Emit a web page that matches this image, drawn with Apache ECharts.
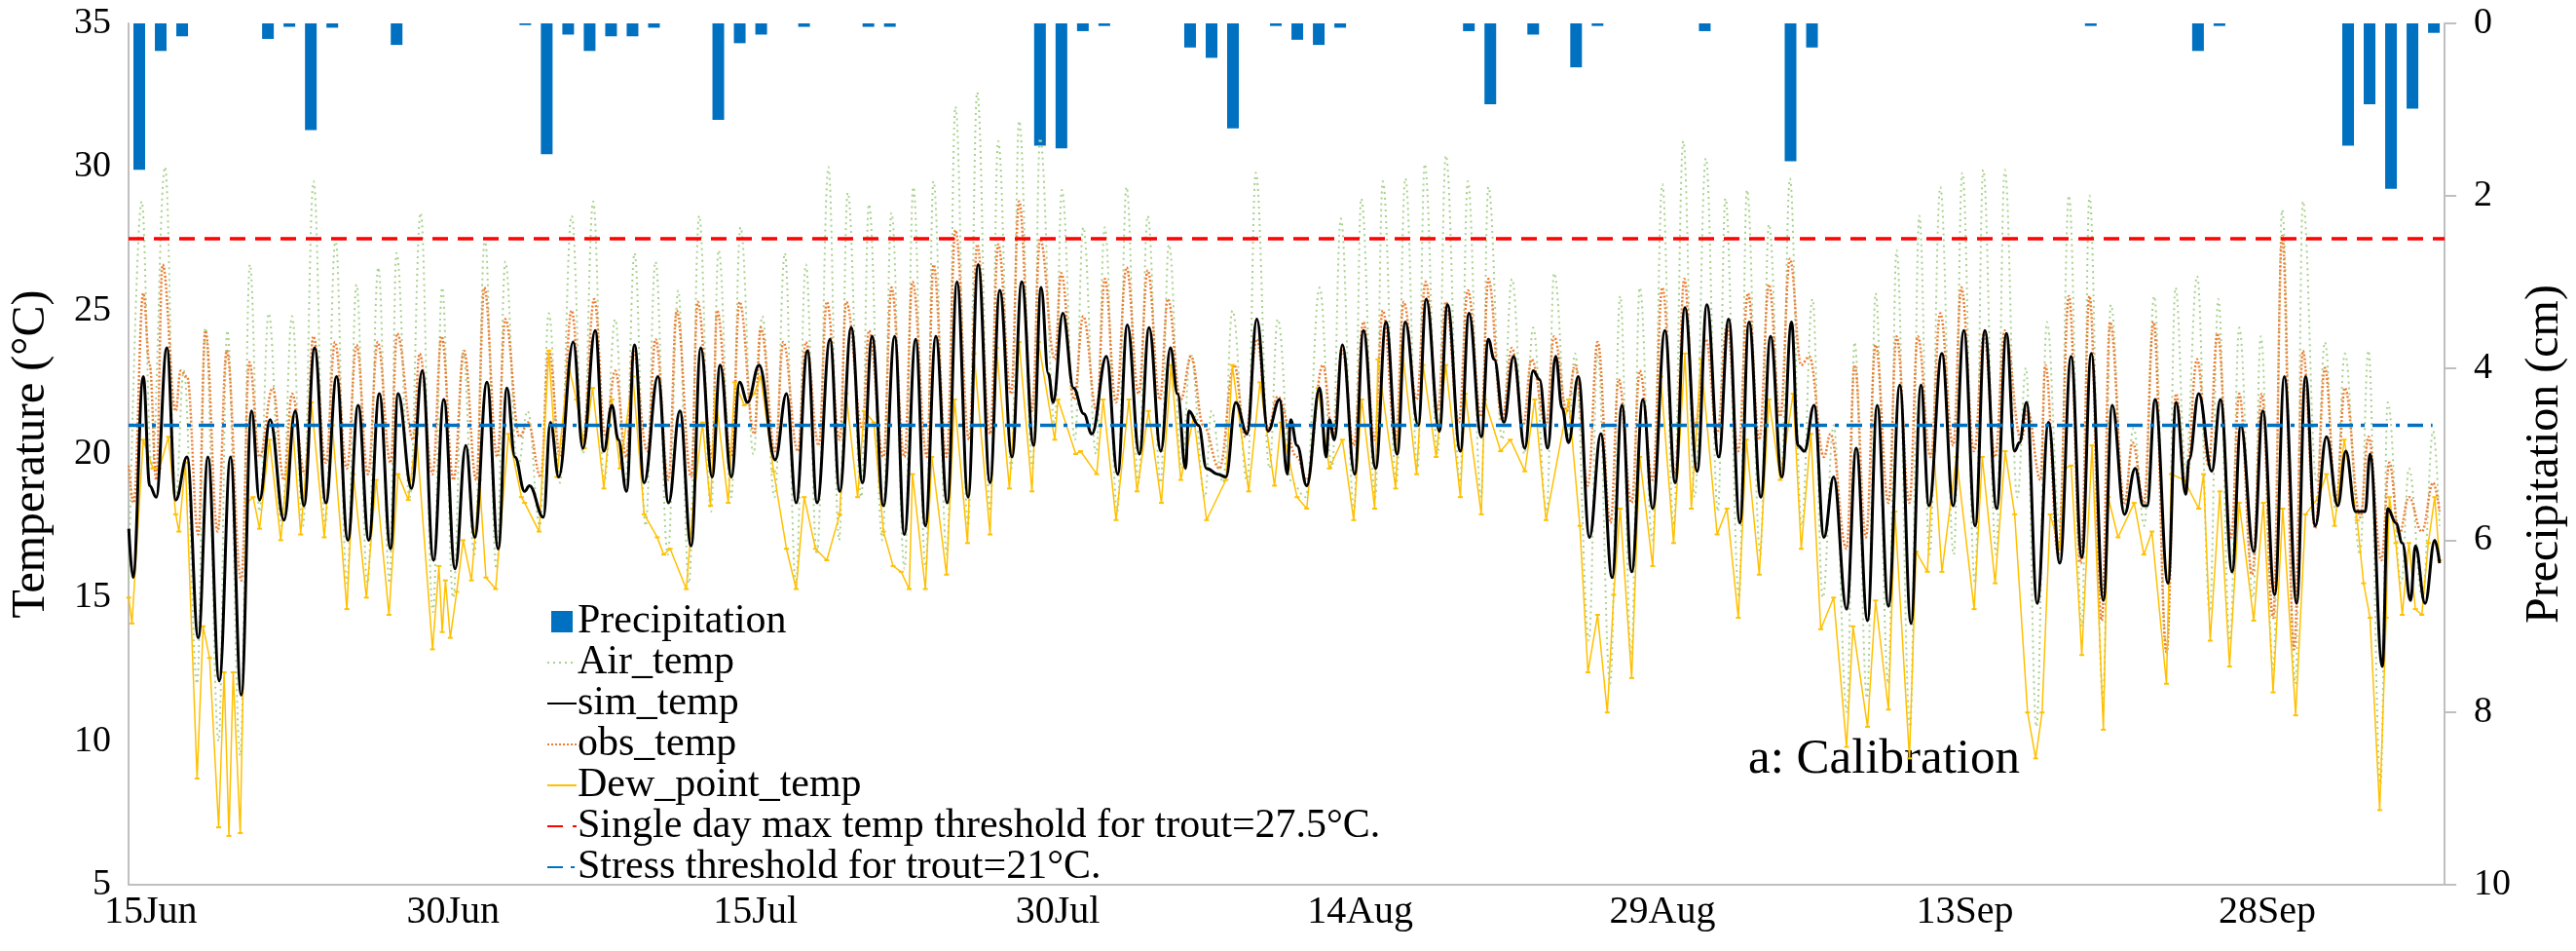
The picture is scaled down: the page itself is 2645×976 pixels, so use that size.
<!DOCTYPE html>
<html>
<head>
<meta charset="utf-8">
<script src="https://cdn.jsdelivr.net/npm/echarts@6/dist/echarts.min.js"></script>
<style>html,body{margin:0;padding:0;background:#fff}#c{width:2645px;height:976px}</style>
</head>
<body>
<div id="c"></div>
<script>
// x unit: days after 15 Jun 00:00
const tickDays = [0, 15, 30, 45, 60, 75, 90, 105];
const tickLabels = ['15Jun', '30Jun', '15Jul', '30Jul', '14Aug', '29Aug', '13Sep', '28Sep'];
const xStart = -1.1, xEnd = 113.8;

// daily precipitation (cm), 108 days
const precipitation = [
1.70,0.32,0.15,0,0,0,0.18,0.04,1.24,0.05,
0,0,0.25,0,0,0,0,0,0.02,1.52,
0.13,0.32,0.15,0.15,0.05,0,0,1.12,0.23,0.13,
0,0.04,0,0,0.04,0.04,0,0,0,0,
0,0,1.42,1.45,0.09,0.03,0,0,0,0.28,
0.40,1.22,0,0.03,0.19,0.25,0.05,0,0,0,
0,0,0.09,0.94,0,0.13,0,0.51,0.03,0,
0,0,0,0.09,0,0,0,1.60,0.28,0,
0,0,0,0,0,0,0,0,0,0,
0,0.03,0,0,0,0,0.32,0.03,0,0,
0,0,0,1.42,0.94,1.92,0.99,0.11];
const precipDays = precipitation.map((v, i) => String(i));

const simTemp = [[-1.09,17.4],[-0.88,15.7],[-0.37,22.7],[-0.05,18.9],[0.27,18.5],[0.80,23.7],[1.24,18.4],[1.80,19.9],[2.36,13.6],[2.84,19.9],[3.40,12.1],[3.96,19.9],[4.49,11.6],[5.00,21.5],[5.40,18.4],[5.92,21.2],[6.61,17.7],[7.17,21.5],[7.60,18.2],[8.13,23.7],[8.69,18.3],[9.22,22.7],[9.78,17.0],[10.29,21.7],[10.82,17.0],[11.34,22.1],[11.90,16.7],[12.27,22.1],[12.94,18.8],[13.47,22.9],[14.03,16.3],[14.54,21.9],[15.10,16.0],[15.63,20.3],[16.07,17.1],[16.68,22.5],[17.24,16.7],[17.67,22.3],[18.07,19.9],[18.55,18.7],[18.79,18.9],[19.48,17.8],[19.83,21.1],[20.24,19.2],[20.96,23.9],[21.44,20.2],[22.05,24.3],[22.48,20.1],[22.88,21.7],[23.20,20.5],[23.60,18.7],[24.00,23.8],[24.48,19.0],[25.16,22.7],[25.69,18.3],[26.25,21.5],[26.81,16.8],[27.29,23.7],[27.85,19.2],[28.25,23.1],[28.81,19.2],[29.21,22.5],[29.61,21.8],[30.18,23.1],[30.98,19.8],[31.54,22.1],[32.02,18.3],[32.58,23.6],[33.06,18.3],[33.70,24.0],[34.18,18.7],[34.75,24.4],[35.31,19.0],[35.79,24.1],[36.35,18.2],[36.91,24.1],[37.39,17.2],[37.95,24.0],[38.43,17.5],[38.95,24.1],[39.52,18.3],[40.00,26.0],[40.55,18.5],[41.05,26.6],[41.64,19.0],[42.12,25.7],[42.73,19.9],[43.21,26.0],[43.80,20.3],[44.17,25.8],[44.53,22.8],[44.77,21.8],[45.25,24.9],[45.78,22.3],[46.29,21.4],[46.69,20.7],[47.41,23.4],[47.97,19.3],[48.45,24.5],[49.05,20.0],[49.53,24.4],[50.11,20.1],[50.59,23.7],[50.94,22.1],[51.34,19.5],[51.50,21.5],[51.98,21.0],[52.38,19.5],[52.94,19.3],[53.34,19.2],[53.83,21.8],[54.39,20.7],[54.87,24.7],[55.43,20.8],[56.00,21.9],[56.39,19.3],[56.55,21.2],[56.87,20.3],[57.35,18.9],[57.99,22.3],[58.31,19.9],[58.47,21.2],[58.72,20.5],[59.12,23.8],[59.73,19.3],[60.16,24.3],[60.77,19.5],[61.28,24.6],[61.84,20.0],[62.24,24.6],[62.88,21.0],[63.28,25.4],[63.93,20.8],[64.33,25.2],[64.97,20.1],[65.40,24.9],[66.01,20.6],[66.36,24.0],[66.65,23.3],[67.13,21.1],[67.61,23.4],[68.17,20.2],[68.58,22.9],[68.90,22.6],[69.30,20.2],[69.70,23.4],[70.02,21.6],[70.34,20.4],[70.82,22.7],[71.38,17.1],[71.94,20.7],[72.50,15.7],[72.99,21.7],[73.47,15.9],[74.03,21.9],[74.51,18.1],[75.12,24.3],[75.63,19.0],[76.11,25.1],[76.72,19.4],[77.20,25.2],[77.79,19.9],[78.28,24.7],[78.84,17.6],[79.29,24.6],[79.88,18.5],[80.36,24.1],[80.92,19.2],[81.40,24.6],[81.72,20.3],[82.04,20.1],[82.52,21.7],[83.01,17.1],[83.49,19.2],[84.13,14.6],[84.61,20.2],[85.17,14.2],[85.65,21.7],[86.21,14.7],[86.77,22.4],[87.33,14.1],[87.82,22.4],[88.22,18.2],[88.86,23.5],[89.42,18.2],[89.95,24.3],[90.51,17.5],[90.99,24.3],[91.58,18.1],[92.06,24.2],[92.47,20.1],[92.71,20.4],[93.06,21.8],[93.59,14.8],[94.15,21.1],[94.71,16.2],[95.27,23.4],[95.80,16.4],[96.27,23.5],[96.87,14.9],[97.31,21.7],[97.92,17.9],[98.45,19.5],[98.85,18.2],[99.04,18.2],[99.44,21.9],[100.08,15.5],[100.48,21.8],[100.96,18.6],[101.12,19.8],[101.60,22.1],[102.25,19.4],[102.68,21.9],[103.26,15.9],[103.69,21.0],[104.33,16.6],[104.78,21.5],[105.37,15.1],[105.85,22.7],[106.46,14.8],[106.90,22.7],[107.38,17.5],[107.94,20.6],[108.50,18.2],[108.90,20.1],[109.38,18.0],[109.86,18.0],[110.10,20.0],[110.71,12.6],[110.98,18.1],[111.38,17.6],[111.70,16.9],[112.11,14.9],[112.35,16.8],[112.83,14.8],[113.31,17.0],[113.55,16.2]];

const obsTemp = [[-1.09,19.6],[-0.85,18.3],[-0.37,25.6],[-0.05,23.1],[0.27,19.1],[0.59,26.6],[1.24,21.5],[1.48,22.9],[1.80,22.7],[2.36,17.2],[2.71,24.3],[3.32,17.3],[3.77,23.6],[4.49,15.6],[4.89,23.2],[5.40,19.9],[6.05,22.3],[6.61,19.1],[7.01,22.1],[7.65,19.3],[8.07,24.1],[8.69,19.7],[9.14,23.9],[9.73,19.5],[10.21,23.8],[10.78,19.3],[11.26,23.9],[11.90,19.7],[12.22,24.2],[13.02,20.5],[13.34,23.5],[13.98,19.3],[14.43,24.1],[15.02,19.1],[15.54,23.6],[16.15,19.1],[16.55,25.8],[17.19,19.9],[17.59,24.7],[18.30,20.6],[18.71,21.1],[19.35,19.2],[19.75,23.6],[20.32,19.9],[20.88,25.0],[21.44,20.5],[22.00,25.4],[22.56,20.6],[23.04,22.9],[23.60,19.9],[23.92,23.6],[24.64,20.1],[25.04,24.0],[25.69,19.1],[26.09,25.0],[26.81,19.2],[27.13,25.3],[27.85,19.9],[28.09,25.0],[28.81,19.9],[29.21,25.3],[29.94,20.7],[30.26,24.4],[30.98,20.1],[31.38,23.9],[32.10,20.1],[32.50,23.9],[33.14,20.3],[33.54,25.3],[34.18,20.5],[34.50,25.3],[35.31,20.9],[35.63,24.3],[36.35,19.9],[36.75,25.8],[37.39,19.9],[37.79,26.0],[38.51,19.9],[38.83,26.6],[39.48,19.9],[39.92,27.8],[40.60,20.5],[41.00,27.3],[41.64,20.7],[42.04,27.3],[42.68,22.1],[43.08,28.8],[43.72,21.5],[44.12,27.5],[44.85,23.3],[45.17,26.3],[45.81,21.9],[46.26,24.8],[46.93,21.5],[47.33,26.1],[47.89,21.8],[48.41,26.5],[49.01,22.1],[49.46,26.4],[50.06,21.9],[50.46,25.4],[51.10,21.9],[51.61,23.4],[52.22,21.0],[53.02,19.5],[53.75,23.1],[54.31,20.6],[54.87,24.0],[55.43,20.9],[55.91,22.0],[56.87,19.9],[57.35,19.1],[58.15,23.1],[58.63,20.7],[59.12,23.6],[59.68,20.3],[60.16,24.6],[60.72,20.5],[61.12,25.0],[61.76,20.5],[62.16,25.3],[62.80,21.9],[63.25,26.0],[63.85,21.5],[64.25,25.3],[64.89,21.1],[65.34,25.7],[66.01,21.3],[66.36,26.1],[67.05,21.2],[67.53,23.7],[68.09,21.0],[68.50,23.3],[69.22,21.0],[69.62,24.1],[70.26,21.5],[70.66,23.1],[71.30,18.9],[71.78,23.9],[72.42,17.6],[72.82,22.6],[73.47,18.3],[73.87,22.9],[74.51,19.1],[74.99,25.8],[75.63,19.3],[76.08,26.1],[76.59,20.9],[77.15,24.0],[77.71,20.7],[78.20,24.5],[78.76,20.1],[79.24,25.6],[79.80,20.5],[80.28,25.9],[80.84,21.3],[81.32,26.8],[81.88,23.1],[82.28,23.4],[83.01,19.9],[83.33,20.7],[84.13,16.7],[84.53,23.1],[85.09,17.1],[85.57,23.8],[86.21,18.3],[86.61,24.1],[87.25,18.3],[87.66,24.1],[88.30,19.9],[88.78,24.9],[89.42,20.3],[89.82,25.8],[90.46,20.1],[90.94,24.2],[91.50,19.9],[91.98,24.3],[92.79,20.5],[93.11,21.5],[93.75,19.1],[93.99,23.1],[94.63,16.5],[95.16,25.5],[95.75,16.2],[96.18,25.5],[96.79,14.2],[97.20,24.6],[97.92,18.3],[98.32,20.4],[98.88,18.3],[99.36,24.6],[100.00,13.1],[100.48,22.1],[100.96,18.9],[101.52,23.3],[102.09,19.6],[102.53,24.2],[103.21,17.1],[103.61,22.1],[104.25,15.8],[104.73,22.1],[105.29,14.3],[105.74,27.6],[106.33,13.2],[106.77,23.6],[107.38,17.4],[107.86,23.0],[108.42,18.3],[108.85,22.3],[109.62,17.8],[110.02,20.6],[110.66,16.3],[111.06,19.7],[111.54,17.2],[112.03,18.5],[112.67,17.3],[113.23,19.0],[113.55,18.0]];

const airTemp = [[-1.09,15.5],[-0.45,28.8],[0.05,19.5],[0.71,30.0],[1.24,18.5],[1.64,22.9],[2.30,12.0],[2.71,24.4],[3.37,10.0],[3.80,24.3],[4.44,9.5],[4.92,26.6],[5.40,18.0],[5.85,24.9],[6.50,17.5],[7.01,24.8],[7.55,17.5],[8.08,29.5],[8.65,17.5],[9.17,27.5],[9.73,15.5],[10.21,25.9],[10.75,15.5],[11.29,26.5],[11.85,15.5],[12.19,27.0],[12.85,18.5],[13.39,28.4],[14.00,14.5],[14.46,25.8],[15.00,15.0],[15.50,23.6],[16.05,16.5],[16.58,27.5],[17.15,16.0],[17.59,26.7],[18.20,19.5],[18.70,21.5],[19.30,17.5],[19.75,24.9],[20.30,19.0],[20.88,28.3],[21.45,20.0],[21.95,28.8],[22.50,19.0],[23.04,24.7],[23.55,19.0],[24.00,27.0],[24.55,17.5],[25.04,26.7],[25.65,16.5],[26.17,25.7],[26.70,15.5],[27.21,28.3],[27.80,18.0],[28.17,27.1],[28.80,18.5],[29.26,27.9],[29.90,20.0],[30.34,24.8],[30.95,18.5],[31.46,27.0],[32.00,15.5],[32.50,26.6],[33.05,16.5],[33.62,30.0],[34.15,17.0],[34.58,29.1],[35.25,18.5],[35.63,28.7],[36.30,17.0],[36.75,28.4],[37.40,16.0],[37.83,29.3],[38.45,16.0],[38.83,29.5],[39.50,16.5],[39.92,32.1],[40.55,17.5],[41.00,32.6],[41.65,18.0],[42.04,30.9],[42.70,19.5],[43.08,31.6],[43.75,19.5],[44.12,31.0],[44.85,21.0],[45.20,29.2],[45.85,20.5],[46.26,27.9],[46.90,20.0],[47.33,27.9],[47.95,18.0],[48.41,29.3],[49.00,19.0],[49.46,28.3],[50.10,19.0],[50.51,27.3],[51.15,19.5],[51.58,23.5],[52.30,18.5],[52.62,21.5],[53.20,19.0],[53.66,25.0],[54.40,19.0],[54.82,29.8],[55.50,19.5],[55.91,24.7],[56.60,19.0],[57.30,18.5],[57.99,25.8],[58.60,19.5],[59.04,28.2],[59.70,18.0],[60.05,28.9],[60.75,18.5],[61.12,29.5],[61.80,19.0],[62.24,29.6],[62.85,19.5],[63.20,30.1],[63.85,20.0],[64.25,30.4],[64.95,19.0],[65.34,29.5],[66.00,18.5],[66.36,29.3],[67.05,20.5],[67.53,26.1],[68.15,20.0],[68.58,24.4],[69.25,18.0],[69.62,26.3],[70.30,20.5],[70.66,23.5],[71.35,13.5],[71.78,23.5],[72.40,12.0],[72.90,25.5],[73.45,13.0],[73.87,25.8],[74.50,17.0],[74.99,29.4],[75.55,17.5],[76.03,30.9],[76.60,18.5],[77.15,30.3],[77.75,18.0],[78.12,28.9],[78.80,15.0],[79.19,29.2],[79.85,16.5],[80.28,28.0],[80.90,19.5],[81.32,29.6],[81.90,17.5],[82.44,25.4],[82.95,15.0],[83.49,21.0],[84.15,11.0],[84.53,23.9],[85.15,11.5],[85.57,25.6],[86.20,12.0],[86.61,27.1],[87.28,10.5],[87.74,28.3],[88.25,16.5],[88.78,29.3],[89.45,16.5],[89.87,29.8],[90.50,15.5],[90.91,29.9],[91.55,16.5],[91.98,29.9],[92.60,18.5],[93.03,23.0],[93.55,10.5],[94.07,24.6],[94.70,17.5],[95.16,29.0],[95.80,14.0],[96.18,29.0],[96.85,11.5],[97.24,25.2],[97.90,18.0],[98.37,20.9],[98.90,17.5],[99.39,25.5],[100.02,13.0],[100.45,25.8],[100.95,19.5],[101.52,26.2],[102.15,14.5],[102.57,25.4],[103.15,13.5],[103.61,24.4],[104.30,15.0],[104.68,24.1],[105.30,12.5],[105.74,28.5],[106.40,12.0],[106.77,28.8],[107.45,19.0],[107.86,23.9],[108.40,18.0],[108.85,23.5],[109.60,16.5],[110.02,23.6],[110.62,8.5],[110.98,21.8],[111.65,15.5],[112.03,19.5],[112.70,15.0],[113.23,20.8],[113.55,17.5]];

const dewPointTemp = [[-1.09,15.0],[-0.93,14.1],[-0.37,20.5],[0.11,19.5],[0.43,19.5],[0.88,20.6],[1.24,17.9],[1.40,17.3],[1.72,19.7],[2.30,8.7],[2.60,14.0],[2.92,12.9],[3.37,7.0],[3.64,12.4],[3.88,6.7],[4.09,12.4],[4.44,6.8],[4.76,18.3],[5.08,18.5],[5.40,17.4],[5.89,20.5],[6.45,17.0],[7.01,21.3],[7.44,17.2],[7.97,21.8],[8.61,17.1],[9.01,21.0],[9.73,14.6],[10.05,19.3],[10.70,15.0],[11.18,19.1],[11.82,14.4],[12.27,19.3],[12.78,18.4],[13.18,20.7],[13.98,13.2],[14.30,16.1],[14.46,13.8],[14.62,15.6],[14.86,13.6],[15.18,15.2],[15.50,17.0],[15.91,15.6],[16.31,19.1],[16.63,15.7],[17.11,15.3],[17.75,20.7],[18.39,18.5],[18.55,18.3],[19.27,17.3],[19.75,23.6],[20.15,19.2],[20.72,23.1],[21.12,21.9],[21.52,20.2],[21.92,22.3],[22.48,18.8],[22.88,21.9],[23.28,19.5],[23.92,22.7],[24.48,17.9],[25.13,17.1],[25.45,16.5],[25.77,16.7],[26.57,15.3],[26.89,18.1],[27.37,21.1],[27.77,18.2],[28.01,22.1],[28.65,18.3],[28.97,22.5],[29.45,21.7],[29.94,22.1],[30.26,22.7],[30.90,19.4],[31.54,16.7],[32.02,15.3],[32.42,18.5],[32.98,16.7],[33.54,16.3],[34.18,17.9],[34.50,22.1],[35.07,18.5],[35.39,21.5],[35.87,21.1],[36.35,17.3],[36.83,16.1],[37.23,15.9],[37.63,15.3],[37.79,19.3],[38.43,15.3],[38.75,19.9],[39.48,15.8],[39.88,21.9],[40.52,16.9],[40.84,23.5],[41.64,17.2],[41.96,23.7],[42.60,18.8],[43.08,23.9],[43.72,18.7],[44.04,23.9],[44.85,20.5],[45.01,21.9],[45.89,20.0],[46.13,20.1],[46.93,19.3],[47.25,21.9],[47.89,17.7],[48.53,21.9],[48.93,18.7],[49.50,21.5],[50.14,18.3],[50.62,23.1],[51.10,19.1],[51.74,21.3],[52.38,17.7],[53.34,19.1],[53.66,23.1],[54.47,18.7],[55.03,22.5],[55.75,18.9],[56.07,21.1],[56.87,18.5],[57.35,18.1],[57.91,22.3],[58.47,19.5],[59.12,20.5],[59.68,17.7],[60.08,21.9],[60.72,18.1],[60.88,23.3],[61.76,18.8],[62.08,23.7],[62.80,19.3],[63.12,23.1],[63.77,19.9],[64.25,23.1],[64.97,18.5],[65.21,22.1],[66.01,17.9],[66.17,21.9],[66.97,20.1],[67.45,20.5],[68.17,19.4],[68.66,21.9],[69.22,17.7],[70.34,21.9],[70.90,17.5],[71.30,12.4],[71.78,14.4],[72.26,11.0],[72.58,15.1],[72.90,18.1],[73.47,12.2],[73.87,19.9],[74.51,16.1],[74.91,22.7],[75.55,16.9],[76.11,23.5],[76.43,18.1],[76.91,23.3],[77.71,17.2],[78.20,18.1],[78.76,14.3],[79.16,20.5],[79.80,15.8],[80.28,21.9],[80.84,19.1],[81.48,22.1],[81.88,16.7],[82.36,20.7],[82.85,13.9],[83.49,15.0],[84.13,9.8],[84.45,14.0],[85.17,10.5],[85.57,14.9],[86.21,11.1],[86.53,18.0],[87.25,9.4],[87.58,16.6],[88.14,15.9],[88.46,20.1],[88.86,15.9],[89.58,19.9],[90.46,14.6],[90.86,19.9],[91.50,15.5],[92.00,20.1],[92.47,17.9],[93.11,11.0],[93.51,9.4],[93.83,11.0],[94.23,17.9],[94.71,16.7],[94.95,19.5],[95.27,19.6],[95.80,13.0],[96.31,20.3],[96.87,10.4],[97.11,18.5],[97.60,17.1],[98.40,18.3],[98.88,16.5],[99.28,17.3],[100.00,12.0],[100.24,19.3],[100.88,19.1],[101.60,18.1],[101.84,19.3],[102.17,13.5],[102.65,18.7],[103.13,12.6],[103.61,18.3],[104.33,14.2],[104.81,18.3],[105.29,11.7],[105.77,18.1],[106.41,10.9],[106.90,17.9],[107.54,18.5],[107.94,19.3],[108.34,17.5],[108.82,20.5],[109.46,17.7],[109.78,15.5],[110.10,14.3],[110.58,7.6],[110.90,14.3],[111.06,18.5],[111.38,16.9],[111.70,14.4],[112.03,16.9],[112.35,14.6],[112.67,14.4],[112.99,16.9],[113.31,18.5],[113.55,16.3]];

const maxTempThreshold = 27.5;
const stressThreshold = 21;

const FONT = 'Liberation Serif';
const chart = echarts.init(document.getElementById('c'), null, {renderer: 'canvas'});
chart.setOption({
  animation: false,
  backgroundColor: '#fff',
  grid: {left: 128, right: 128, top: 24, bottom: 68, containLabel: false},
  legend: {
    orient: 'vertical', left: 556, top: 612, itemGap: 0, itemWidth: 30, itemHeight: 22,
    itemStyle: {opacity: 0},
    textStyle: {fontFamily: FONT, fontSize: 42, color: '#000', lineHeight: 41, padding: [0, 0, 0, -4]},
    data: [
      {name: 'Precipitation', icon: 'path://M0,0H10V10H0Z', itemStyle: {opacity: 1}},
      'Air_temp', 'sim_temp', 'obs_temp', 'Dew_point_temp',
      'Single day max temp threshold for trout=27.5°C.',
      'Stress threshold for trout=21°C.'
    ]
  },
  graphic: [{
    type: 'text', left: 1795, top: 754,
    style: {text: 'a: Calibration', font: '51px "Liberation Serif"', fill: '#000'}
  }],
  xAxis: [{
    type: 'value', min: xStart, max: xEnd,
    splitLine: {show: false},
    axisLine: {onZero: false, lineStyle: {color: '#bfbfbf', width: 2}},
    axisTick: {show: false},
    axisLabel: {
      customValues: tickDays, margin: 8,
      fontFamily: FONT, fontSize: 40, color: '#000',
      formatter: v => tickLabels[tickDays.indexOf(v)] || ''
    }
  }, {
    type: 'category', data: precipDays, boundaryGap: true, show: false
  }],
  yAxis: [{
    type: 'value', min: 5, max: 35, interval: 5,
    name: 'Temperature (°C)', nameLocation: 'middle', nameGap: 76,
    nameTextStyle: {fontFamily: FONT, fontSize: 48, color: '#000'},
    splitLine: {show: false},
    axisLine: {show: true, onZero: false, lineStyle: {color: '#bfbfbf', width: 2}},
    axisTick: {show: false},
    axisLabel: {fontFamily: FONT, fontSize: 38, color: '#000', margin: 18}
  }, {
    type: 'value', min: 0, max: 10, interval: 2, inverse: true,
    name: 'Precipitation (cm)', nameLocation: 'middle', nameGap: 76, nameRotate: 90,
    nameTextStyle: {fontFamily: FONT, fontSize: 48, color: '#000'},
    splitLine: {show: false},
    axisLine: {show: true, onZero: false, lineStyle: {color: '#bfbfbf', width: 2}},
    axisTick: {show: true, length: 12, lineStyle: {color: '#bfbfbf', width: 2}},
    axisLabel: {fontFamily: FONT, fontSize: 38, color: '#000', margin: 30}
  }],
  series: [
    {
      name: 'Precipitation', type: 'bar', xAxisIndex: 1, yAxisIndex: 1,
      data: precipitation, barWidth: 12, itemStyle: {color: '#0070C0'}, z: 2
    },
    {
      name: 'Air_temp', type: 'line', data: airTemp, smooth: 0.4, smoothMonotone: 'x',
      showSymbol: false, symbol: 'none',
      lineStyle: {color: '#A9D18E', width: 2, type: [2, 4]}, itemStyle: {color: '#A9D18E'}, z: 3
    },
    {
      name: 'obs_temp', type: 'line', data: obsTemp, smooth: 0.4, smoothMonotone: 'x',
      showSymbol: false, symbol: 'none',
      lineStyle: {color: '#ED7D31', width: 2.5, type: [2, 2]}, itemStyle: {color: '#ED7D31'}, z: 4
    },
    {
      name: 'Dew_point_temp', type: 'line', data: dewPointTemp,
      symbol: 'rect', symbolSize: [5, 2], showSymbol: true,
      lineStyle: {color: '#FFC000', width: 1.5}, itemStyle: {color: '#FFC000'}, z: 5
    },
    {
      name: 'sim_temp', type: 'line', data: simTemp, smooth: 0.4, smoothMonotone: 'x',
      showSymbol: false, symbol: 'none',
      lineStyle: {color: '#000000', width: 3}, itemStyle: {color: '#000'}, z: 6
    },
    {
      name: 'Single day max temp threshold for trout=27.5°C.', type: 'line',
      data: [[xStart, maxTempThreshold], [xEnd, maxTempThreshold]],
      symbol: 'none', lineStyle: {color: '#FF0000', width: 3.5, type: [16, 10]},
      itemStyle: {color: '#FF0000'}, z: 7
    },
    {
      name: 'Stress threshold for trout=21°C.', type: 'line',
      data: [[xStart, stressThreshold], [113.2, stressThreshold]],
      symbol: 'none', lineStyle: {color: '#0070C0', width: 3.5, type: [16, 8, 4, 8]},
      itemStyle: {color: '#0070C0'}, z: 7
    }
  ]
});
</script>
</body>
</html>
